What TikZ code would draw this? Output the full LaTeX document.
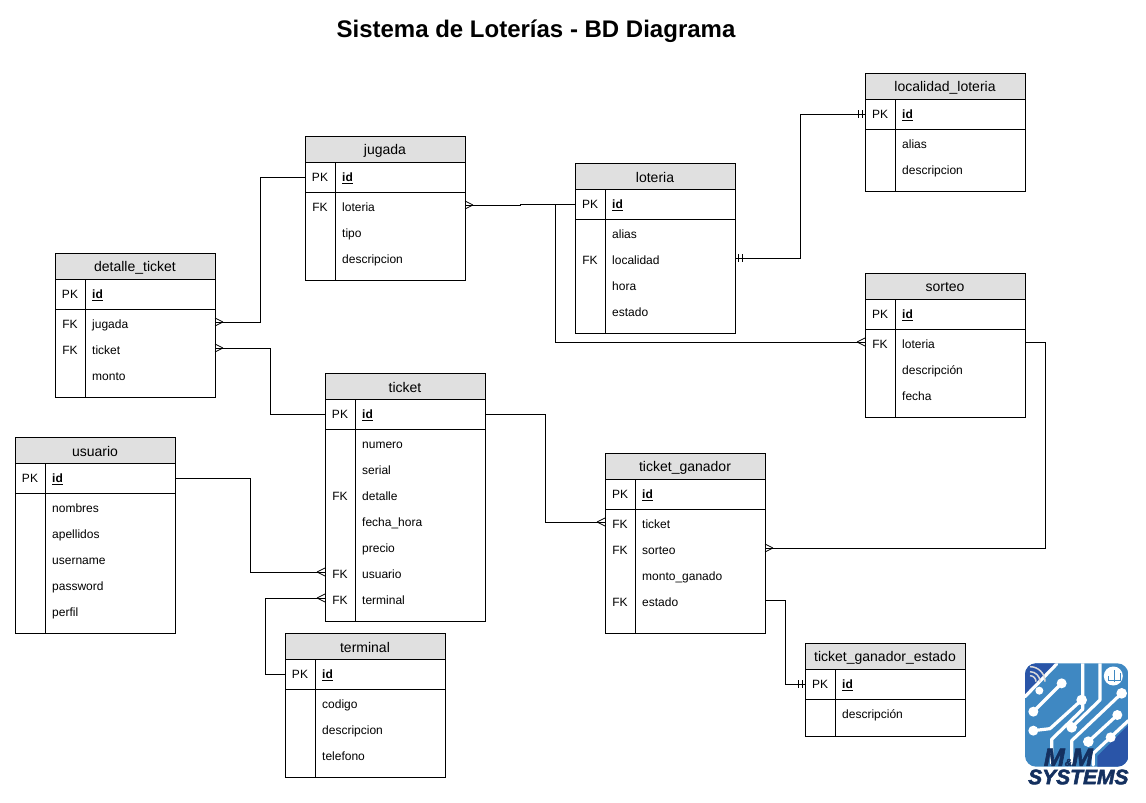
\documentclass[tikz,border=0pt]{standalone}
\usepackage{fontspec}
\setmainfont{Liberation Sans}
\newfontfamily\logofont[BoldItalicFeatures={FakeBold=2.5}]{Liberation Sans}
\usetikzlibrary{decorations.markings}
\definecolor{hdr}{HTML}{E0E0E0}
\definecolor{logolight}{HTML}{3F88C2}
\definecolor{logodark}{HTML}{2A55A8}
\definecolor{logonavy}{HTML}{14305F}
\tikzset{
  x=1pt,y=-1pt,
  tbox/.style={draw=black,line width=1pt},
  conn/.style={draw=black,line width=1pt,line join=miter},
  rowanchor/.style={minimum width=160pt,minimum height=10pt,inner sep=0pt,outer sep=0pt},
  titletext/.style={font=\fontsize{14}{16}\selectfont,inner sep=0pt},
  celltext/.style={font=\fontsize{12}{14}\selectfont,inner sep=0pt},
  crowend/.style={postaction={decorate,decoration={markings,
    mark=at position 1 with {\draw[line width=0.8pt] (-8,0)--(0,4) (-8,0)--(0,-4);}}}},
  barend/.style={postaction={decorate,decoration={markings,
    mark=at position -3pt with {\draw[line width=0.8pt] (0,-4)--(0,4);},
    mark=at position -7pt with {\draw[line width=0.8pt] (0,-4)--(0,4);}}}},
  barstart/.style={postaction={decorate,decoration={markings,
    mark=at position 3pt with {\draw[line width=0.8pt] (0,-4)--(0,4);},
    mark=at position 7pt with {\draw[line width=0.8pt] (0,-4)--(0,4);}}}},
  trace/.style={draw=white,line width=3.2pt,line cap=round,line join=round},
}
% id, x, top, bottom, title, rows
\newcommand{\ertable}[6]{%
  \fill[hdr] (#2,#3) rectangle (#2+160,#3+26);
  \draw[tbox] (#2,#3) rectangle (#2+160,#4);
  \draw[tbox] (#2,#3+26) -- (#2+160,#3+26);
  \draw[tbox] (#2,#3+56) -- (#2+160,#3+56);
  \draw[tbox] (#2+30,#3+26) -- (#2+30,#4);
  \node[titletext] (#1-title) at (#2+80,#3+14.5) {#5};
  \node[rowanchor] (#1-0) at (#2+80,#3+41) {};
  \node[celltext,anchor=base] (#1-pk) at (#2+15,#3+45.3) {PK};
  \node[celltext,anchor=base west] (#1-id) at (#2+37,#3+45.3) {\underline{\textbf{id}}};
  \foreach \k/\n [count=\i] in {#6}{
    \node[rowanchor] (#1-\i) at (#2+80,#3+69+26*\i-26) {};
    \node[celltext,anchor=base] (#1-k\i) at (#2+15,#3+75.3+26*\i-26) {\k};
    \node[celltext,anchor=base west] (#1-t\i) at (#2+37,#3+75.3+26*\i-26) {\n};
  }
}
\begin{document}
\begin{tikzpicture}
\useasboundingbox (0,0) rectangle (1146,803);
\node[font=\fontsize{24}{28}\selectfont\bfseries,inner sep=0pt] (maintitle) at (536,31.2) {Sistema de Loterías - BD Diagrama};

\ertable{localidad}{865}{73}{191}{localidad\_loteria}{/alias,/descripcion}
\ertable{jugada}{305}{136}{280}{jugada}{FK/loteria,/tipo,/descripcion}
\ertable{loteria}{575}{163}{333}{loteria}{/alias,FK/localidad,/hora,/estado}
\ertable{sorteo}{865}{273}{417}{sorteo}{FK/loteria,/descripción,/fecha}
\ertable{detalle}{55}{253}{397}{detalle\_ticket}{FK/jugada,FK/ticket,/monto}
\ertable{ticket}{325}{373}{621}{ticket}{/numero,/serial,FK/detalle,/fecha\_hora,/precio,FK/usuario,FK/terminal}
\ertable{usuario}{15}{437}{633}{usuario}{/nombres,/apellidos,/username,/password,/perfil}
\ertable{ganador}{605}{453}{633}{ticket\_ganador}{FK/ticket,FK/sorteo,/monto\_ganado,FK/estado}
\ertable{terminal}{285}{633}{777}{terminal}{/codigo,/descripcion,/telefono}
\ertable{gestado}{805}{643}{736}{ticket\_ganador\_estado}{/descripción}

\draw[conn,crowend] (jugada-0.west) -- ++(-44.6,0) |- (detalle-1.east);
\draw[conn,crowend] (ticket-0.west) -- ++(-54.6,0) |- (detalle-2.east);
\draw[conn,crowend] (usuario-0.east) -- ++(75.4,0) |- (ticket-6.west);
\draw[conn,crowend] (terminal-0.west) -- ++(-19.6,0) |- (ticket-7.west);
\draw[conn,crowend] (ticket-0.east) -- ++(60.4,0) |- (ganador-1.west);
\draw[conn,crowend] (loteria-0.west) -- ++(-54.6,0) -- ++(0,1) -- (jugada-1.east);
\draw[conn,crowend] (loteria-0.west) -- ++(-19.6,0) |- (sorteo-1.west);
\draw[conn,barstart,barend] (loteria-2.east) -- ++(65.4,0) |- (localidad-0.west);
\draw[conn,crowend] (sorteo-1.east) -- ++(20.4,0) |- (ganador-2.east);
\draw[conn,barend] (ganador-4.east) -- ++(20.4,0) |- (gestado-0.west);

% logo, in coordinates of a 3x crop
\begin{scope}[shift={(1010,650)},x=0.3333pt,y=-0.3333pt]
  \begin{scope}
    \clip[rounded corners=11pt] (45,40) rectangle (355,350);
    \fill[logolight] (45,40) rectangle (355,350);
    \fill[logodark] (45,40) -- (138,40) -- (45,135) -- cycle;
    \fill[logodark] (355,225) -- (262,318) -- (262,350) -- (355,350) -- cycle;
    \draw[trace] (45,140) -- (140,42);
    \draw[trace] (70,185) -- (155,100);
    \draw[trace] (70,242) -- (120,236) -- (215,150);
    \draw[trace] (125,340) -- (125,268) -- (218,178) -- (218,40);
    \draw[trace] (185,232) -- (270,150) -- (270,40);
    \draw[trace] (185,340) -- (185,272) -- (335,130);
    \draw[trace] (235,275) -- (322,195);
    \draw[trace] (250,345) -- (250,310) -- (355,212);
    \foreach \cx/\cy/\r in {88/122/12,70/185/15,155/100/15,70/242/15,215/150/16,185/232/16,335/130/16,235/275/16,322/195/15,302/262/15}
      \fill[white] (\cx,\cy) circle[radius=\r*0.3333pt];
    \draw[white!85!black,line width=1.5pt] (60,95) ++(0,-18) arc[start angle=90,end angle=0,radius=6pt];
    \draw[white!85!black,line width=1.5pt] (60,95) ++(0,-30) arc[start angle=90,end angle=0,radius=10pt];
    \draw[white!85!black,line width=1.5pt] (60,95) ++(0,-45) arc[start angle=90,end angle=0,radius=15pt];
    \fill[white] (310,78) circle[radius=9.5pt];
    \draw[logolight,line width=0.8pt] (312,60) -- (312,95) (295,78) -- (295,92) -- (330,92) -- (330,70);
  \end{scope}
  \node[inner sep=0pt,text=logonavy,font=\logofont\bfseries\itshape\fontsize{25}{26}\selectfont] (logomm) at (175,322) {M{\fontsize{10}{10}\selectfont\&}M};
  \node[inner sep=0pt,text=logonavy,font=\logofont\bfseries\itshape\fontsize{21}{22}\selectfont] (logosys) at (205,381) {SYSTEMS};
\end{scope}
\end{tikzpicture}
\end{document}
